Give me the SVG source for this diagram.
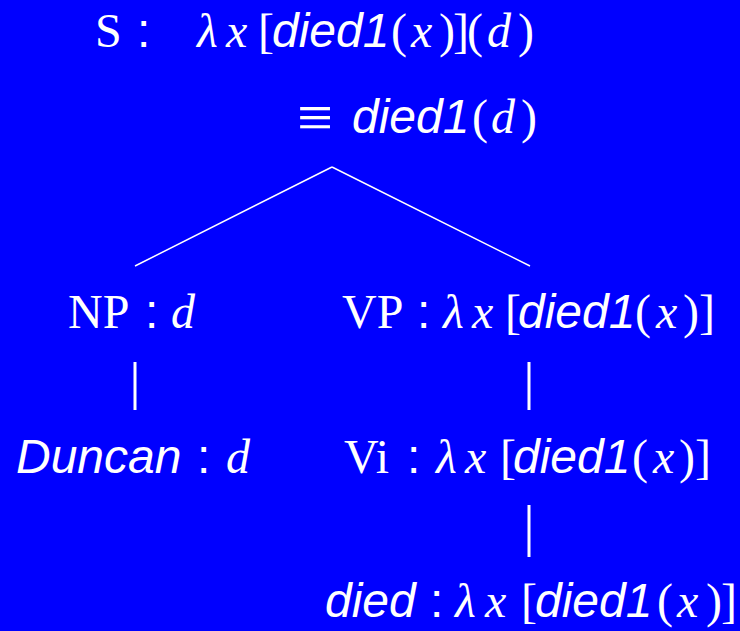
<svg xmlns="http://www.w3.org/2000/svg" width="740" height="631" viewBox="0 0 740 631">
<style>
text{fill:#fff;font-size:48px;font-family:"Liberation Serif",serif}
.mi{font-style:italic}
.sf{font-family:"Liberation Sans",sans-serif;font-style:italic}
.cl{font-family:"Liberation Sans",sans-serif}
.eq{font-size:64px}
.edge{stroke:#fff;fill:none}
</style>
<rect width="740" height="631" fill="#0000FF"/>
<g id="S">
<text y="47"><tspan x="95">S</tspan><tspan x="137" class="cl">:</tspan><tspan x="197" class="mi">λ</tspan><tspan x="226" class="mi">x</tspan><tspan x="258">[</tspan><tspan x="272" class="sf">died1</tspan><tspan x="391">(</tspan><tspan x="411" class="mi">x</tspan><tspan x="439">)</tspan><tspan x="453">]</tspan><tspan x="467">(</tspan><tspan x="487" class="mi">d</tspan><tspan x="518">)</tspan></text>
<text><tspan x="297" y="139" class="eq">≡</tspan><tspan x="352" y="133" class="sf">died1</tspan><tspan x="472">(</tspan><tspan x="491" class="mi">d</tspan><tspan x="521">)</tspan></text>
</g>
<g id="NP">
<text y="328"><tspan x="68">NP</tspan><tspan x="145" class="cl">:</tspan><tspan x="171" class="mi">d</tspan></text>
</g>
<g id="VP">
<text y="328"><tspan x="342">VP</tspan><tspan x="417" class="cl">:</tspan><tspan x="443" class="mi">λ</tspan><tspan x="472" class="mi">x</tspan><tspan x="505">[</tspan><tspan x="518" class="sf">died1</tspan><tspan x="635">(</tspan><tspan x="656" class="mi">x</tspan><tspan x="683">)</tspan><tspan x="699">]</tspan></text>
</g>
<g id="Duncan">
<text y="473"><tspan x="16" class="sf">Duncan</tspan><tspan x="197" class="cl">:</tspan><tspan x="226" class="mi">d</tspan></text>
</g>
<g id="Vi">
<text y="473"><tspan x="344">Vi</tspan><tspan x="407" class="cl">:</tspan><tspan x="436" class="mi">λ</tspan><tspan x="465" class="mi">x</tspan><tspan x="500">[</tspan><tspan x="513" class="sf">died1</tspan><tspan x="632">(</tspan><tspan x="653" class="mi">x</tspan><tspan x="679">)</tspan><tspan x="695">]</tspan></text>
</g>
<g id="died">
<text y="617"><tspan x="325" class="sf">died</tspan><tspan x="430" class="cl">:</tspan><tspan x="455" class="mi">λ</tspan><tspan x="485" class="mi">x</tspan><tspan x="521">[</tspan><tspan x="535" class="sf">died1</tspan><tspan x="657">(</tspan><tspan x="677" class="mi">x</tspan><tspan x="706">)</tspan><tspan x="721">]</tspan></text>
</g>
<g id="connectors">
<path class="edge" stroke-width="1.5" d="M332 167L135 266M332 167L530 266"/>
<path class="edge" stroke-width="3" d="M135 362V410M529 362V410M529 505V557"/>
</g>
</svg>
